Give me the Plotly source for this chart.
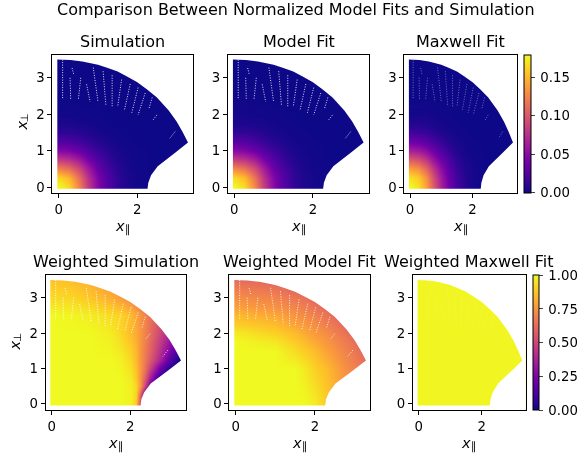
import plotly.graph_objects as go

W, H = 579, 455

# ---------- data ----------
grid_density = [0, .25, .5, .75, 1, 1.25, 1.5, 1.75, 2, 2.5, 3, 3.5]

simulation = [
    [.180, .165, .125, .083, .048, .025, .012, .005, .002, 0, 0, 0],
    [.165, .150, .114, .077, .045, .024, .012, .005, .002, 0, 0, 0],
    [.125, .114, .091, .063, .035, .019, .010, .004, .001, 0, 0, 0],
    [.083, .077, .063, .042, .025, .014, .007, .003, .001, 0, 0, 0],
    [.048, .045, .035, .025, .016, .009, .004, .002, .001, 0, 0, 0],
    [.025, .024, .019, .014, .009, .005, .002, .001, 0, 0, 0, 0],
    [.012, .012, .010, .007, .004, .002, .001, 0, 0, 0, 0, 0],
    [.005, .005, .004, .003, .002, .001, 0, 0, 0, 0, 0, 0],
    [.002, .002, .001, .001, .001, 0, 0, 0, 0, 0, 0, 0],
    [0, 0, 0, 0, 0, 0, 0, 0, 0, 0, 0, 0],
    [0, 0, 0, 0, 0, 0, 0, 0, 0, 0, 0, 0],
    [0, 0, 0, 0, 0, 0, 0, 0, 0, 0, 0, 0],
]
model_fit = [
    [.180, .166, .128, .085, .050, .027, .013, .006, .003, .001, 0, 0],
    [.166, .152, .117, .079, .047, .026, .013, .006, .003, .001, 0, 0],
    [.128, .117, .094, .065, .037, .021, .011, .005, .002, .001, 0, 0],
    [.085, .079, .065, .044, .027, .015, .008, .004, .002, 0, 0, 0],
    [.050, .047, .037, .027, .017, .010, .005, .003, .001, 0, 0, 0],
    [.027, .026, .021, .015, .010, .006, .003, .002, .001, 0, 0, 0],
    [.013, .013, .011, .008, .005, .003, .002, .001, 0, 0, 0, 0],
    [.006, .006, .005, .004, .003, .002, .001, 0, 0, 0, 0, 0],
    [.003, .003, .002, .002, .001, .001, 0, 0, 0, 0, 0, 0],
    [.001, .001, .001, 0, 0, 0, 0, 0, 0, 0, 0, 0],
    [0, 0, 0, 0, 0, 0, 0, 0, 0, 0, 0, 0],
    [0, 0, 0, 0, 0, 0, 0, 0, 0, 0, 0, 0],
]
maxwell_fit = [
    [.180, .169, .140, .103, .066, .038, .019, .008, .003, 0, 0, 0],
    [.169, .159, .132, .096, .062, .035, .018, .008, .003, 0, 0, 0],
    [.140, .132, .109, .080, .052, .029, .015, .007, .003, 0, 0, 0],
    [.103, .096, .080, .058, .038, .022, .011, .005, .002, 0, 0, 0],
    [.066, .062, .052, .038, .024, .014, .007, .003, .001, 0, 0, 0],
    [.038, .035, .029, .022, .014, .008, .004, .002, .001, 0, 0, 0],
    [.019, .018, .015, .011, .007, .004, .002, .001, 0, 0, 0, 0],
    [.008, .008, .007, .005, .003, .002, .001, 0, 0, 0, 0, 0],
    [.003, .003, .003, .002, .001, .001, 0, 0, 0, 0, 0, 0],
    [0, 0, 0, 0, 0, 0, 0, 0, 0, 0, 0, 0],
    [0, 0, 0, 0, 0, 0, 0, 0, 0, 0, 0, 0],
    [0, 0, 0, 0, 0, 0, 0, 0, 0, 0, 0, 0],
]

grid_wsim_x = [0, .5, 1, 1.5, 1.75, 2, 2.125, 2.25, 2.375, 2.5, 2.75, 3, 3.25, 3.5]
grid_wsim_y = [0, .25, .5, .75, 1, 1.25, 1.5, 2, 2.5, 3, 3.5]
weighted_simulation = [
    [1, 1, 1, 1, 1, .98, .90, .55, .20, .10, 0, 0, 0, 0],
    [1, 1, 1, 1, 1, .98, .92, .62, .20, .10, 0, 0, 0, 0],
    [1, 1, 1, 1, 1, .98, .92, .78, .50, .22, .05, 0, 0, 0],
    [1, 1, 1, 1, 1, .96, .88, .76, .60, .38, .07, .02, 0, 0],
    [1, 1, 1, 1, .99, .94, .87, .77, .65, .50, .22, .04, 0, 0],
    [1, 1, 1, 1, .98, .92, .85, .76, .67, .57, .38, .15, .01, 0],
    [1, 1, 1, .99, .96, .90, .84, .76, .68, .60, .43, .25, .08, .03],
    [1, 1, 1, .97, .92, .85, .81, .76, .70, .63, .50, .38, .28, .20],
    [1, .99, .97, .93, .91, .85, .80, .75, .70, .65, .55, .45, .35, .25],
    [.93, .92, .88, .82, .77, .72, .68, .65, .62, .58, .50, .42, .35, .25],
    [.87, .86, .82, .75, .70, .65, .62, .60, .56, .52, .45, .38, .30, .25],
]

grid_wmodel = [0, 1, 1.5, 1.75, 2, 2.25, 2.5, 2.75, 3, 3.25, 3.5]
weighted_model = [
    [1, 1, 1, 1, .97, .90, .85, .78, .73, .68, .63],
    [1, 1, 1, .96, .90, .86, .80, .74, .70, .65, .60],
    [1, 1, .93, .89, .85, .79, .75, .70, .66, .61, .58],
    [1, .96, .89, .85, .80, .76, .72, .68, .64, .60, .56],
    [.97, .90, .85, .80, .76, .73, .69, .65, .61, .58, .55],
    [.90, .86, .79, .76, .73, .69, .66, .62, .59, .56, .55],
    [.85, .80, .75, .72, .69, .66, .62, .59, .56, .55, .55],
    [.78, .74, .70, .68, .65, .62, .59, .57, .55, .55, .55],
    [.73, .70, .66, .64, .61, .59, .56, .55, .55, .55, .55],
    [.68, .65, .61, .60, .58, .56, .55, .55, .55, .55, .55],
    [.63, .60, .58, .56, .55, .55, .55, .55, .55, .55, .55],
]

grid_wmaxwell = [0, 3.5]
weighted_maxwell = [[.99, .99], [.99, .99]]

# outline of the sampled region: up the left edge, over the outer arc, back along the inner arc
region_x = [-.035, -.035, .3, .6, 1, 1.25, 1.5, 1.75, 2, 2.25, 2.5, 2.8, 3, 3.15, 3.29,
            2.97, 2.73, 2.52, 2.35, 2.28, 2.26]
region_y = [-.05, 3.5, 3.49, 3.45, 3.36, 3.27, 3.17, 3.03, 2.88, 2.68, 2.46, 2.1, 1.8, 1.52, 1.22,
            .95, .76, .57, .32, .12, -.05]
outside_x = [-1, 5, 5, -1, -1]
outside_y = [-1, -1, 5, 5, -1]

# thin sampling gaps seen as white dotted streaks
gap_x0 = [.10, .29, .34, .56, .71, .88, 1.13, 1.36, 1.60, 1.82, 2.02, 2.20, 2.38, 2.50, 2.96]
gap_y0 = [3.50, 3.00, 3.27, 3.00, 2.82, 3.28, 3.18, 3.07, 2.95, 2.83, 2.73, 2.58, 2.46, 1.98, 1.52]
gap_x1 = [.10, .305, .38, .50, .80, 1.00, 1.20, 1.36, 1.50, 1.67, 1.86, 2.02, 2.29, 2.40, 2.83]
gap_y1 = [2.40, 2.40, 3.10, 2.40, 2.34, 2.34, 2.25, 2.20, 2.20, 2.10, 2.04, 1.98, 2.13, 1.84, 1.34]

titles = ["Simulation", "Model Fit", "Maxwell Fit",
          "Weighted Simulation", "Weighted Model Fit", "Weighted Maxwell Fit"]
main_title = "Comparison Between Normalized Model Fits and Simulation"
cbar_top_ticks = [0, .05, .10, .15]
cbar_top_labels = ["\u20090.00", "\u20090.05", "\u20090.10", "\u20090.15"]
cbar_bottom_ticks = [0, .25, .5, .75, 1]
cbar_bottom_labels = ["\u20090.00", "\u20090.25", "\u20090.50", "\u20090.75", "\u20091.00"]
x_ticks = [0, 2]
y_ticks = [0, 1, 2, 3]

# ---------- layout in pixels ----------
FONT = "DejaVu Sans"
TICK = 13.3
panels = [
    # left, right, top, bottom, x0 px, px per x, y0 px, px per y, gap opacity
    (52.3, 193.0, 54.7, 192.7, 58.7, 39.3, 187.0, 36.4, .85),
    (228.0, 369.0, 54.7, 192.7, 234.3, 39.3, 187.0, 36.4, .85),
    (404.3, 517.3, 54.7, 192.7, 410.0, 31.3, 187.0, 36.4, .4),
    (45.7, 186.0, 275.0, 410.3, 51.7, 39.3, 403.7, 35.33, .85),
    (229.3, 370.3, 275.0, 410.3, 235.7, 39.6, 403.7, 35.33, .85),
    (413.0, 525.7, 275.0, 410.3, 418.7, 31.5, 403.7, 35.33, .2),
]
fields = [
    (grid_density, grid_density, simulation),
    (grid_density, grid_density, model_fit),
    (grid_density, grid_density, maxwell_fit),
    (grid_wsim_x, grid_wsim_y, weighted_simulation),
    (grid_wmodel, grid_wmodel, weighted_model),
    (grid_wmaxwell, grid_wmaxwell, weighted_maxwell),
]

fig = go.Figure()
ann = []


def text(s, px, py, size, angle=0, style="normal"):
    ann.append(dict(text=s, x=px / W, y=1 - py / H, xref="paper", yref="paper",
                    xanchor="center", yanchor="middle", showarrow=False, textangle=angle,
                    font=dict(family=FONT, size=size, color="black", style=style)))


mask_x = outside_x + region_x + region_x[:1] + outside_x[:1]
mask_y = outside_y + region_y + region_y[:1] + outside_y[:1]
gap_x, gap_y = [], []
for a, b, c, d in zip(gap_x0, gap_y0, gap_x1, gap_y1):
    gap_x += [a, c, None]
    gap_y += [b, d, None]

layout_axes = {}
for i, (p, f) in enumerate(zip(panels, fields)):
    l, r, t, b, x0, sx, y0, sy, gap_op = p
    n = "" if i == 0 else str(i + 1)
    xa, ya = "x" + n, "y" + n
    top_row = i < 3
    kw = dict(zmin=0, zmax=.179 if top_row else 1, colorscale="Plasma", zsmooth="best",
              hoverinfo="skip", showscale=i in (2, 5))
    if i == 2:
        kw["colorbar"] = dict(x=524.3 / W, xanchor="left", y=1 - (t + b) / 2 / H, yanchor="middle",
                              len=(b - t) / H, thickness=6.7, xpad=0, ypad=0, outlinewidth=1,
                              outlinecolor="black", ticks="outside", ticklen=4, tickwidth=1,
                              tickvals=cbar_top_ticks, ticktext=cbar_top_labels,
                              tickfont=dict(family=FONT, size=TICK, color="black"))
    if i == 5:
        kw["colorbar"] = dict(x=533.3 / W, xanchor="left", y=1 - (t + b) / 2 / H, yanchor="middle",
                              len=(b - t) / H, thickness=6, xpad=0, ypad=0, outlinewidth=1,
                              outlinecolor="black", ticks="outside", ticklen=4, tickwidth=1,
                              tickvals=cbar_bottom_ticks, ticktext=cbar_bottom_labels,
                              tickfont=dict(family=FONT, size=TICK, color="black"))
    fig.add_trace(go.Heatmap(x=f[0], y=f[1], z=f[2], xaxis=xa, yaxis=ya, **kw))
    fig.add_trace(go.Scatter(x=mask_x, y=mask_y, xaxis=xa, yaxis=ya, mode="lines", fill="toself",
                             fillcolor="white", line=dict(width=0), hoverinfo="skip", showlegend=False))
    fig.add_trace(go.Scatter(x=gap_x, y=gap_y, xaxis=xa, yaxis=ya, mode="lines", opacity=gap_op,
                             line=dict(color="white", width=1, dash="1px,1.5px"),
                             hoverinfo="skip", showlegend=False))
    common = dict(showgrid=False, zeroline=False, showline=True, mirror=True, linecolor="black",
                  linewidth=1, ticks="outside", ticklen=4, tickwidth=1, tickcolor="black",
                  tickfont=dict(family=FONT, size=TICK, color="black"))
    layout_axes["xaxis" + n] = dict(common, domain=[l / W, r / W], anchor=ya, tickvals=x_ticks,
                                    range=[(l - x0) / sx, (r - x0) / sx])
    layout_axes["yaxis" + n] = dict(common, domain=[1 - b / H, 1 - t / H], anchor=xa, tickvals=y_ticks,
                                    range=[(y0 - b) / sy, (y0 - t) / sy])
    text(titles[i], (l + r) / 2, 41 if top_row else 261, 16)
    cx = (l + r) / 2
    ly = 226 if top_row else 443
    text("x", cx - 3, ly, 14.5, style="italic")
    text("∥", cx + 5, ly + 3, 11)
    if i == 0:
        text("x", 21.5, 126, 14.5, angle=-90, style="italic")
        text("⊥", 24, 118.5, 10.5, angle=-90)
    if i == 3:
        text("x", 14.5, 346, 14.5, angle=-90, style="italic")
        text("⊥", 17, 338, 10.5, angle=-90)

text(main_title, 296, 9, 16)

fig.update_layout(width=W, height=H, margin=dict(l=0, r=0, t=0, b=0, autoexpand=False), autosize=False,
                  paper_bgcolor="white", plot_bgcolor="white", showlegend=False,
                  annotations=ann, **layout_axes)
fig.write_html("out.html", config={"displayModeBar": False},
               post_script="document.body.style.margin='0';"
                           "document.querySelectorAll('.main-svg').forEach(function(s){s.style.willChange='transform';});")
